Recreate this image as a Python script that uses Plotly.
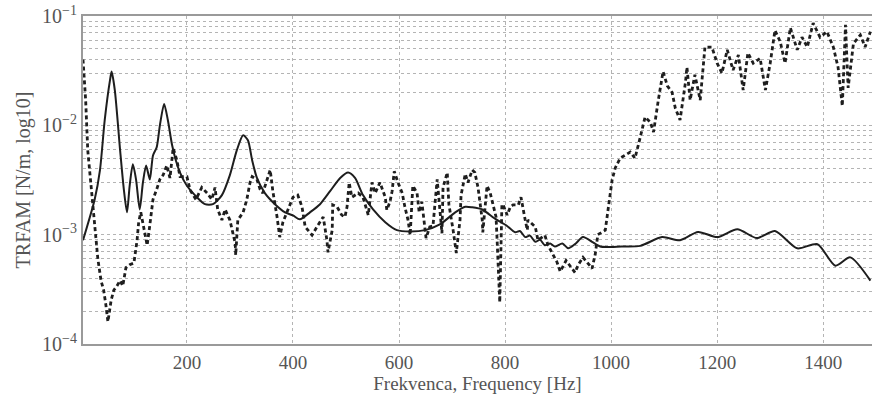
import plotly.graph_objects as go

# Solid curve (Hz, TRFAM)
solid_hz = [4, 26, 36, 45, 55, 58, 64, 74, 81, 87, 92, 98, 104, 111, 117, 123, 130, 136, 143, 149,
            157, 164, 172, 179, 187, 200, 215, 234, 249, 266, 281, 294, 306, 315, 323, 332, 347, 366,
            385, 400, 413, 432, 451, 470, 489, 504, 517, 532, 551, 574, 596, 621, 649, 677, 706, 725,
            738, 757, 781, 802, 819, 828, 838, 847, 857, 866, 875, 885, 894, 908, 919, 932, 947, 964,
            979, 992, 1020, 1055, 1096, 1130, 1164, 1200, 1238, 1275, 1309, 1351, 1389, 1423, 1451, 1489]
solid_val = [0.00089, 0.0021, 0.0039, 0.0112, 0.026, 0.031, 0.021, 0.0059, 0.0026, 0.0016, 0.0028,
             0.0044, 0.0032, 0.0017, 0.003, 0.0043, 0.0032, 0.0053, 0.0063, 0.010, 0.0157, 0.0112,
             0.0066, 0.0048, 0.0037, 0.0028, 0.0023, 0.0019, 0.0019, 0.0023, 0.0035, 0.0059, 0.0081,
             0.0073, 0.0048, 0.0033, 0.0024, 0.0019, 0.0016, 0.0015, 0.00138, 0.0016, 0.0019, 0.0025,
             0.0033, 0.0037, 0.0033, 0.0023, 0.0017, 0.0013, 0.0011, 0.00107, 0.0011, 0.00124, 0.0016,
             0.0018, 0.00178, 0.0017, 0.0014, 0.00122, 0.00105, 0.00108, 0.00095, 0.00098, 0.00086,
             0.0009, 0.0008, 0.00083, 0.00078, 0.00083, 0.00075, 0.00082, 0.00095, 0.00086, 0.00078,
             0.00077, 0.00078, 0.00079, 0.00095, 0.00089, 0.00106, 0.00095, 0.00112, 0.00093, 0.00108,
             0.00075, 0.00082, 0.00052, 0.00062, 0.00038]

# Dashed curve (Hz, TRFAM)
dashed_hz = [4, 9, 13, 21, 26, 32, 38, 43, 47, 51, 57, 62, 68, 74, 79, 85, 92, 100, 106, 109, 113, 119,
             125, 130, 136, 143, 149, 155, 162, 168, 174, 181, 187, 200, 206, 217, 228, 238, 247, 253,
             258, 266, 272, 281, 287, 291, 292, 296, 306, 313, 319, 323, 332, 338, 343, 357, 360, 362,
             370, 375, 381, 391, 400, 409, 417, 423, 436, 447, 457, 460, 464, 466, 474, 475, 483, 492,
             498, 502, 506, 511, 517, 523, 532, 542, 549, 555, 564, 574, 577, 583, 587, 591, 598, 606,
             611, 617, 621, 626, 634, 638, 643, 647, 651, 658, 664, 672, 674, 675, 681, 683, 691, 692,
             694, 702, 706, 708, 715, 717, 725, 730, 738, 743, 749, 757, 758, 766, 772, 777, 783, 785,
             787, 789, 790, 794, 796, 804, 810, 815, 825, 830, 834, 838, 842, 843, 857, 862, 875, 881,
             898, 904, 915, 923, 932, 938, 947, 960, 964, 970, 975, 989, 994, 1002, 1008, 1017, 1036,
             1045, 1055, 1064, 1074, 1080, 1089, 1098, 1106, 1115, 1121, 1130, 1140, 1143, 1149, 1158,
             1168, 1177, 1190, 1200, 1209, 1219, 1230, 1240, 1249, 1258, 1268, 1281, 1291, 1300, 1309,
             1319, 1328, 1338, 1351, 1360, 1370, 1381, 1394, 1407, 1419, 1428, 1436, 1442, 1447, 1457,
             1470, 1479, 1489]
dashed_val = [0.040, 0.017, 0.0059, 0.0021, 0.00122, 0.0006, 0.00038, 0.00031, 0.00023, 0.00016,
              0.00025, 0.00031, 0.00034, 0.00038, 0.00034, 0.0005, 0.00053, 0.00055, 0.00089, 0.0013,
              0.0016, 0.00115, 0.0008, 0.00122, 0.0021, 0.0026, 0.0032, 0.0035, 0.0043, 0.0033, 0.0062,
              0.0048, 0.0034, 0.0034, 0.00256, 0.0021, 0.0027, 0.0024, 0.0021, 0.0027, 0.0017, 0.00136,
              0.0017, 0.00136, 0.00103, 0.00084, 0.00065, 0.00136, 0.0016, 0.0021, 0.003, 0.0034, 0.0032,
              0.0026, 0.0024, 0.0039, 0.0030, 0.0025, 0.00145, 0.00095, 0.0013, 0.0017, 0.0022, 0.0023,
              0.0018, 0.00118, 0.00099, 0.00122, 0.00145, 0.00118, 0.00089, 0.00069, 0.0011, 0.00187,
              0.0018, 0.00151, 0.00145, 0.0018, 0.003, 0.0022, 0.0023, 0.0024, 0.0022, 0.00151, 0.0030,
              0.0024, 0.0030, 0.0022, 0.00168, 0.002, 0.0025, 0.0038, 0.003, 0.0024, 0.0018, 0.00136,
              0.00099, 0.0028, 0.0024, 0.0016, 0.002, 0.00136, 0.00093, 0.00118, 0.0012, 0.0032, 0.0025,
              0.0019, 0.00103, 0.0027, 0.0037, 0.0029, 0.0019, 0.0011, 0.00084, 0.00068, 0.00136, 0.0023,
              0.0036, 0.0030, 0.0039, 0.0037, 0.0027, 0.00136, 0.00105, 0.0028, 0.0024, 0.0019, 0.00145,
              0.00089, 0.00059, 0.00038, 0.00024, 0.00187, 0.0019, 0.00151, 0.0018, 0.00187, 0.00187,
              0.0022, 0.00168, 0.00136, 0.0011, 0.00136, 0.00118, 0.00089, 0.00099, 0.0008, 0.00056,
              0.00046, 0.00058, 0.00052, 0.00045, 0.00053, 0.00062, 0.00052, 0.00049, 0.00066, 0.001,
              0.0011, 0.0016, 0.0032, 0.0041, 0.005, 0.0057, 0.005, 0.0078, 0.0119, 0.0107, 0.0087,
              0.017, 0.031, 0.023, 0.02, 0.0144, 0.0112, 0.0243, 0.034, 0.017, 0.029, 0.017, 0.052,
              0.052, 0.037, 0.03, 0.049, 0.032, 0.044, 0.021, 0.046, 0.037, 0.041, 0.021, 0.037, 0.074,
              0.058, 0.037, 0.078, 0.049, 0.064, 0.052, 0.086, 0.064, 0.072, 0.052, 0.034, 0.015, 0.083,
              0.022, 0.056, 0.067, 0.052, 0.072]

x_ticks = [200, 400, 600, 800, 1000, 1200, 1400]
y_major = [1e-4, 1e-3, 1e-2, 1e-1]
y_major_text = ["10<sup>−4</sup>", "10<sup>−3</sup>", "10<sup>−2</sup>", "10<sup>−1</sup>"]

y_tickvals = []
y_ticktext = []
for i, base in enumerate(y_major[:3]):
    for k in range(1, 10):
        y_tickvals.append(base * k)
        y_ticktext.append(y_major_text[i] if k == 1 else "")
y_tickvals.append(y_major[3])
y_ticktext.append(y_major_text[3])

FONT = "Liberation Serif"
grid_col = "#b4b4b4"
axis_col = "#9a9a9a"
txt_col = "#555555"

fig = go.Figure()
fig.add_trace(go.Scatter(x=dashed_hz, y=dashed_val, mode="lines",
                         line=dict(color="#1e1e1e", width=2.8, dash="4px,3px"),
                         showlegend=False))
fig.add_trace(go.Scatter(x=solid_hz, y=solid_val, mode="lines",
                         line=dict(color="#1e1e1e", width=2.0, shape="spline", smoothing=0.7),
                         showlegend=False))

fig.update_layout(
    width=872, height=394,
    margin=dict(l=83, r=0, t=16, b=50),
    paper_bgcolor="white", plot_bgcolor="white",
    font=dict(family=FONT, color=txt_col, size=19),
    xaxis=dict(range=[4, 1492], tickvals=x_ticks, ticktext=[str(v) for v in x_ticks],
               showgrid=True, gridcolor=grid_col, griddash="dot", gridwidth=1,
               showline=True, linecolor=axis_col, linewidth=2, mirror=True,
               ticks="", zeroline=False,
               title=dict(text="Frekvenca, Frequency [Hz]", standoff=2,
                          font=dict(family=FONT, size=19, color=txt_col)),
               tickfont=dict(family=FONT, size=19, color=txt_col)),
    yaxis=dict(type="log", range=[-4, -1], tickvals=y_tickvals, ticktext=y_ticktext,
               showgrid=True, gridcolor=grid_col, griddash="dot", gridwidth=1,
               showline=True, linecolor=axis_col, linewidth=2,
               ticks="", zeroline=False,
               title=dict(text="TRFAM [N/m, log10]", standoff=6,
                          font=dict(family=FONT, size=20, color=txt_col)),
               tickfont=dict(family=FONT, size=20, color=txt_col)),
)

fig.write_html("out.html")
